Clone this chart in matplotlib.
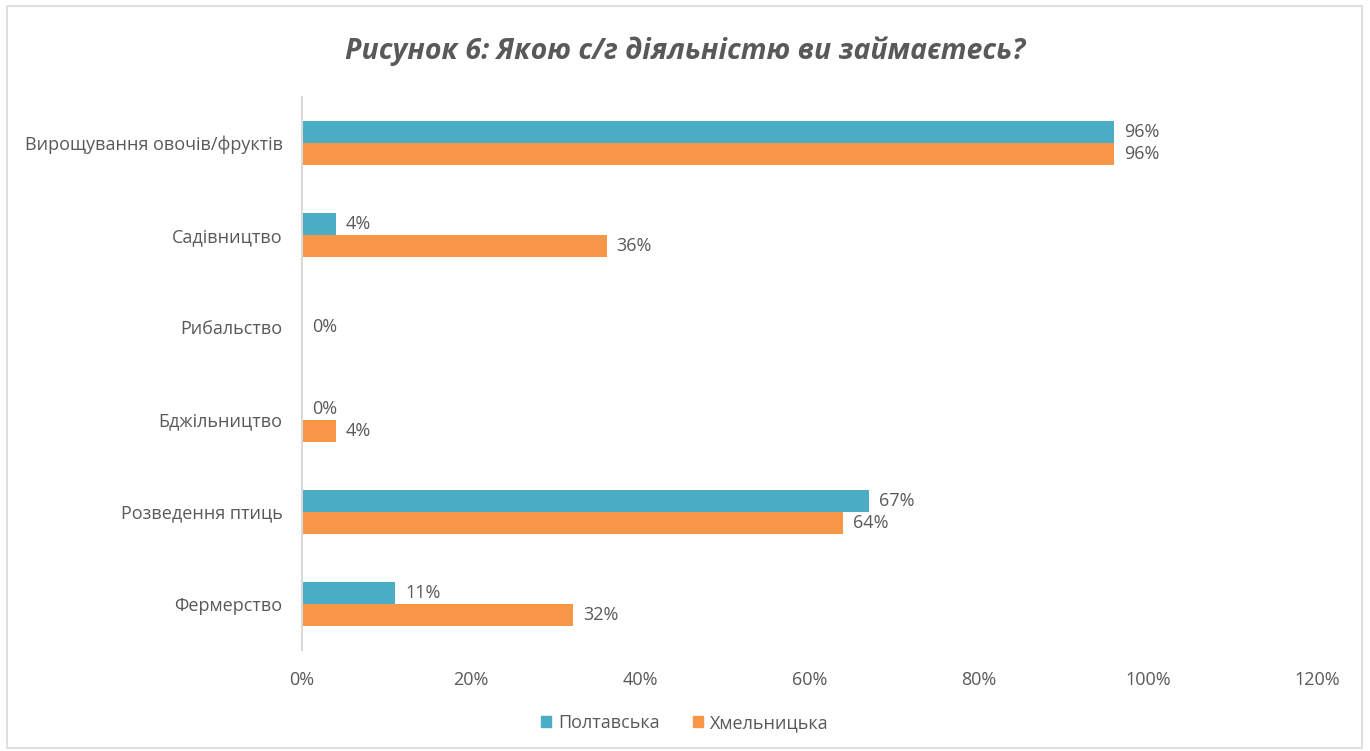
import numpy as np
import matplotlib.pyplot as plt
from matplotlib.patches import Rectangle

# data
categories = ['Вирощування овочів/фруктів', 'Садівництво', 'Рибальство',
              'Бджільництво', 'Розведення птиць', 'Фермерство']
poltava = [96, 4, None, 0, 67, 11]
khmel = [96, 36, 0, 4, 64, 32]
series_names = ['Полтавська', 'Хмельницька']
xticks = [0, 20, 40, 60, 80, 100, 120]

c_polt = '#4BACC6'
c_khm = '#F79646'
grey = '#595959'

plt.rcParams['font.family'] = ['Open Sans', 'DejaVu Sans']

fig = plt.figure(figsize=(13.7, 7.51), dpi=100)
fig.patches.append(Rectangle((7/1370, 3/751), 1355/1370, 742/751, transform=fig.transFigure,
                             fill=False, edgecolor='#D9D9D9', linewidth=1.2))
ax = fig.add_axes([302/1370, 101/751, 1015/1370, 553/751])

y = np.arange(len(categories))
h = 0.238
fs = 13
for i, cat in enumerate(categories):
    p, k = poltava[i], khmel[i]
    if p is not None:
        ax.barh(i - h/2, p, height=h, color=c_polt)
    ax.barh(i + h/2, k, height=h, color=c_khm)
    if p is None:
        ax.text(k + 1.2, i, f'{k}%', va='center', ha='left', fontsize=fs, color=grey)
        continue
    ax.text(p + 1.2, i - h/2, f'{p}%', va='center', ha='left', fontsize=fs, color=grey)
    ax.text(k + 1.2, i + h/2, f'{k}%', va='center', ha='left', fontsize=fs, color=grey)

ax.set_ylim(len(categories) - 0.5, -0.5)
ax.set_xlim(0, 120)
ax.set_yticks(y)
ax.set_yticklabels(categories, fontsize=fs, color=grey)
ax.set_xticks(xticks)
ax.set_xticklabels([f'{t}%' for t in xticks], fontsize=fs, color=grey)
ax.tick_params(axis='both', length=0)
ax.tick_params(axis='y', pad=14)
ax.tick_params(axis='x', pad=15)
for s in ['top', 'right', 'bottom']:
    ax.spines[s].set_visible(False)
ax.spines['left'].set_color('#D9D9D9')
ax.spines['left'].set_linewidth(1.5)

fig.text(0.5, 1 - 51/751, 'Рисунок 6: Якою с/г діяльністю ви займаєтесь?',
         ha='center', va='center', fontsize=20.5, fontweight='bold',
         fontstyle='italic', color=grey)

handles = [Rectangle((0, 0), 1, 1, color=c_polt), Rectangle((0, 0), 1, 1, color=c_khm)]
leg = fig.legend(handles, series_names, loc='center', bbox_to_anchor=(0.5, 1 - 723/751),
                 ncol=2, frameon=False, fontsize=fs, handlelength=0.55, handleheight=0.55,
                 handletextpad=0.4, columnspacing=1.8)
for t in leg.get_texts():
    t.set_color(grey)

fig.savefig('out.png', dpi=100)
